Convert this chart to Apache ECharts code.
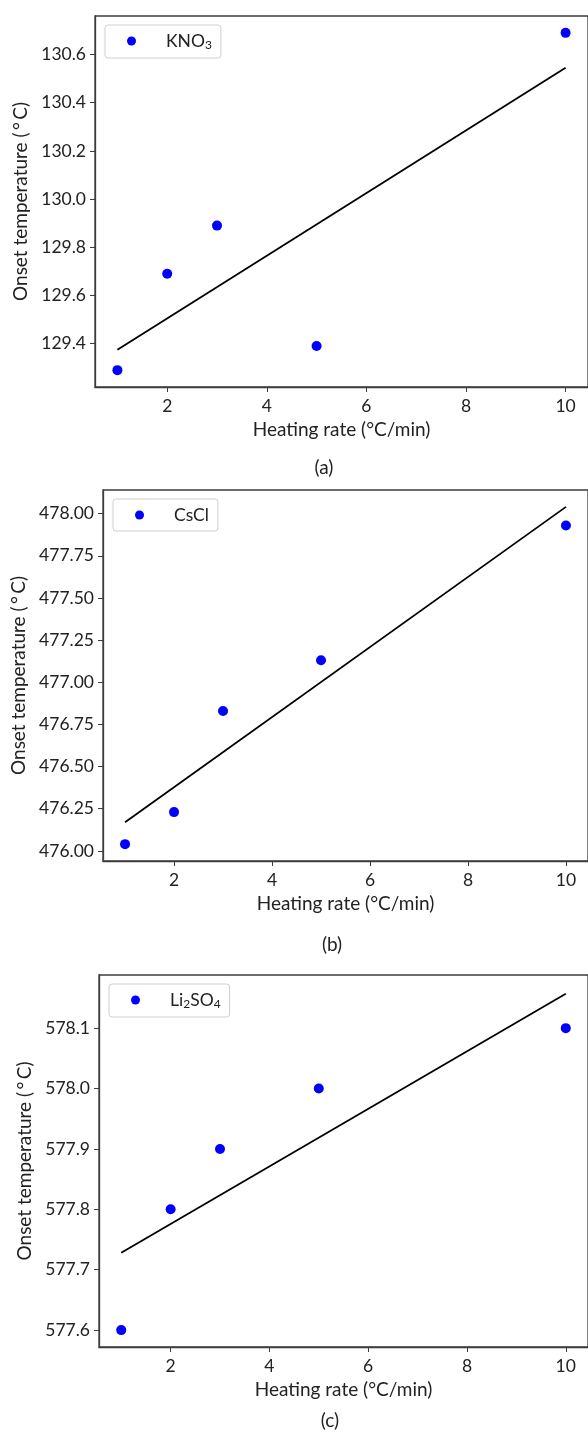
<!DOCTYPE html>
<html>
<head>
<meta charset="utf-8">
<script src="https://cdn.jsdelivr.net/npm/echarts@6/dist/echarts.min.js"></script>
<style>
  html, body { margin: 0; padding: 0; background: #fff; }
  #chart { width: 588px; height: 1432px; }
</style>
</head>
<body>
<div id="chart"></div>
<script>
// heating rates (°C/min), shared by all three panels
const rates = [1, 2, 3, 5, 10]
const xTicks = [2, 4, 6, 8, 10]

// onset temperatures
const kno3Onset = [129.29, 129.69, 129.89, 129.39, 130.69]
const csclOnset = [476.04, 476.23, 476.83, 477.13, 477.93]
const li2so4Onset = [577.60, 577.80, 577.90, 578.00, 578.10]

// linear fit lines, end points at rate 1 and 10
const fitRates = [1, 10]
const kno3Fit = [129.375, 130.545]
const csclFit = [476.17, 478.04]
const li2so4Fit = [577.728, 578.157]

// y tick labels
const kno3Ticks = [129.4, 129.6, 129.8, 130.0, 130.2, 130.4, 130.6]
const csclTicks = [476.00, 476.25, 476.50, 476.75, 477.00, 477.25, 477.50, 477.75, 478.00]
const li2so4Ticks = [577.6, 577.7, 577.8, 577.9, 578.0, 578.1]

const captions = ['(a)', '(b)', '(c)']

const font = 'Lato'
const textColor = '#222'
const spine = '#3c3c3c'

let panels = [
    { name: 'KNO3', values: kno3Onset, fit: kno3Fit, ticks: kno3Ticks, digits: 1,
      grid: { left: 95, top: 16, width: 503, height: 371 }, yMin: 129.22, yMax: 130.76,
      nameGap: 64, caption: [324, 468] },
    { name: 'CsCl', values: csclOnset, fit: csclFit, ticks: csclTicks, digits: 2,
      grid: { left: 103, top: 490, width: 492, height: 371 }, yMin: 475.94, yMax: 478.14,
      nameGap: 75, caption: [332, 945] },
    { name: 'Li2SO4', values: li2so4Onset, fit: li2so4Fit, ticks: li2so4Ticks, digits: 1,
      grid: { left: 99, top: 975, width: 501, height: 372 }, yMin: 577.572, yMax: 578.188,
      nameGap: 65, caption: [330, 1421] }
]

let legendLabels = {
    'KNO3': '{n|KNO}{s|3}',
    'CsCl': '{n|CsCl}',
    'Li2SO4': '{n|Li}{s|2}{m|SO}{s|4}'
}

let grids = [], xAxes = [], yAxes = [], legends = [], series = [], graphics = []

panels.forEach((p, i) => {
    grids.push(Object.assign({ show: true, borderColor: spine, borderWidth: 1.3, backgroundColor: '#fff' }, p.grid))

    xAxes.push({
        type: 'value',
        gridIndex: i,
        min: 0.55,
        max: 10.45,
        name: 'Heating rate (°C/min)',
        nameLocation: 'middle',
        nameGap: 33,
        nameTextStyle: { fontFamily: font, fontSize: 19, color: textColor },
        axisLine: { show: true, lineStyle: { color: spine, width: 1.3 } },
        axisTick: { show: true, length: 5, lineStyle: { color: spine }, customValues: xTicks },
        axisLabel: { fontFamily: font, fontSize: 17.5, color: textColor, margin: 10, customValues: xTicks },
        splitLine: { show: false }
    })

    yAxes.push({
        type: 'value',
        gridIndex: i,
        min: p.yMin,
        max: p.yMax,
        name: 'Onset temperature (\u2009°\u2009C)',
        nameLocation: 'middle',
        nameGap: p.nameGap,
        nameTextStyle: { fontFamily: font, fontSize: 19, color: textColor },
        axisLine: { show: true, lineStyle: { color: spine, width: 1.3 } },
        axisTick: { show: true, length: 5, lineStyle: { color: spine }, customValues: p.ticks },
        axisLabel: {
            fontFamily: font, fontSize: 17.5, color: textColor, margin: 9,
            customValues: p.ticks,
            formatter: v => v.toFixed(p.digits)
        },
        splitLine: { show: false }
    })

    legends.push({
        data: [p.name],
        left: p.grid.left + 10,
        top: p.grid.top + 9,
        orient: 'vertical',
        icon: 'circle',
        itemWidth: 9,
        itemHeight: 9,
        padding: [7, 9, 7, 22],
        backgroundColor: 'rgba(255,255,255,0.8)',
        borderColor: '#cfcfcf',
        borderWidth: 1,
        borderRadius: 3,
        selectedMode: false,
        formatter: name => legendLabels[name],
        textStyle: {
            fontFamily: font, fontSize: 17.5, color: textColor,
            rich: {
                n: { padding: [0, 0, 0, 25] },
                m: {},
                s: { fontSize: 12, padding: [8, 0, 0, 0] }
            }
        }
    })

    series.push({
        name: p.name,
        type: 'scatter',
        xAxisIndex: i,
        yAxisIndex: i,
        symbol: 'circle',
        symbolSize: 10,
        itemStyle: { color: '#0000ff', opacity: 1 },
        data: rates.map((r, k) => [r, p.values[k]]),
        z: 3
    })

    series.push({
        name: p.name + ' fit',
        type: 'line',
        xAxisIndex: i,
        yAxisIndex: i,
        symbol: 'none',
        lineStyle: { color: '#000', width: 1.8 },
        data: fitRates.map((r, k) => [r, p.fit[k]]),
        z: 2
    })

    graphics.push({
        type: 'text',
        x: p.caption[0],
        y: p.caption[1],
        style: {
            text: captions[i],
            fontFamily: font,
            fontSize: 19,
            fill: textColor,
            textAlign: 'center',
            textVerticalAlign: 'middle'
        }
    })
})

let option = {
    animation: false,
    backgroundColor: '#fff',
    grid: grids,
    xAxis: xAxes,
    yAxis: yAxes,
    legend: legends,
    series: series,
    graphic: graphics
}

var myChart = echarts.init(document.getElementById('chart'))
myChart.setOption(option)
window.addEventListener('resize', function() {
    myChart.resize()
})
</script>
</body>
</html>
